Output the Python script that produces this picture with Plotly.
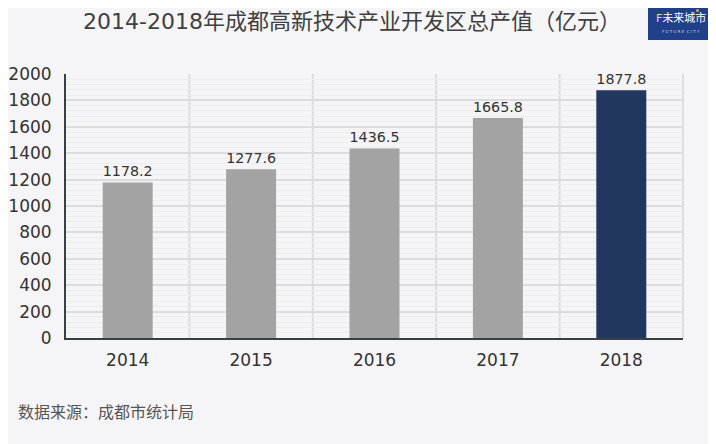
import plotly.graph_objects as go

years = ["2014", "2015", "2016", "2017", "2018"]
values = [1178.2, 1277.6, 1436.5, 1665.8, 1877.8]
bar_colors = ["#a3a3a3", "#a3a3a3", "#a3a3a3", "#a3a3a3", "#22375f"]
y_ticks = [0, 200, 400, 600, 800, 1000, 1200, 1400, 1600, 1800, 2000]

FONT = "DejaVu Sans, Noto Sans CJK SC, sans-serif"
CJK = "Noto Sans CJK SC, sans-serif"
BG = "#f5f5f7"

# paper spans figure x 58..708, y 0..330 ; page is offset by 8px
PW, PH = 650.0, 330.0
def px(wx):
    return (wx - 66) / PW
def py(wy):
    return (338 - wy) / PH

fig = go.Figure()
fig.add_trace(go.Bar(
    x=years, y=values,
    marker=dict(color=bar_colors, line=dict(width=0)),
    text=[f"{v:.1f}" for v in values],
    textposition="outside",
    textfont=dict(size=17, color="#333333", family=FONT),
    cliponaxis=False,
    width=0.405,
))

# vertical separators between categories
for i in range(1, len(years)):
    fig.add_shape(type="line", xref="x", yref="y domain", x0=i - 0.5, x1=i - 0.5, y0=0, y1=1,
                  line=dict(color="#dcdcdc", width=2), layer="below")
# right border of plot area
fig.add_shape(type="line", xref="x domain", yref="y domain", x0=1, x1=1, y0=0, y1=1,
              line=dict(color="#dcdcdc", width=2), layer="below")

fig.update_layout(
    width=716, height=444,
    paper_bgcolor=BG, plot_bgcolor=BG,
    margin=dict(l=58, r=8, t=0, b=114, autoexpand=False),
    showlegend=False,
    font=dict(family=FONT, color="#333333"),
    title=dict(text="2014-2018年成都高新技术产业开发区总产值（亿元）",
               x=344 / 716, xanchor="center", xref="container",
               y=1 - 13 / 444, yanchor="middle", yref="container",
               font=dict(size=22, color="#404040", family=FONT)),
    xaxis=dict(
        type="category", range=[-0.5, 4.5], automargin=False,
        domain=[0, 617 / PW],
        showline=True, linecolor="#3a3f45", linewidth=2,
        mirror=False, showgrid=False, ticks="",
        tickfont=dict(size=17, color="#333333"),
        ticklabelstandoff=6,
    ),
    yaxis=dict(
        range=[0, 2000], tickvals=y_ticks, automargin=False,
        domain=[0, 264 / PH],
        showline=True, linecolor="#3a3f45", linewidth=2,
        showgrid=True, gridcolor="#dcdcdc", gridwidth=2,
        zeroline=False, ticks="",
        tickfont=dict(size=17, color="#333333"),
        ticklabelstandoff=9,
        minor=dict(dtick=40, showgrid=True, gridcolor="#ededf0", gridwidth=1),
    ),
    bargap=0.6,
)

# logo block
fig.add_shape(type="rect", xref="paper", yref="paper",
              x0=px(648), x1=px(714), y0=py(40), y1=py(8),
              fillcolor="#21408a", line=dict(width=0), layer="above")
fig.add_shape(type="circle", xref="paper", yref="paper",
              x0=px(696), x1=px(699), y0=py(12), y1=py(9),
              fillcolor="#e8a23a", line=dict(width=0), layer="above")
fig.add_annotation(text="<span style='color:#f0d9a8'>F</span>未来城市", xref="paper", yref="paper",
                   x=px(681), y=py(18), xanchor="center", yanchor="middle",
                   showarrow=False, borderpad=0,
                   font=dict(size=11, color="#ffffff", family=FONT))
fig.add_annotation(text="F U T U R E  C I T Y", xref="paper", yref="paper",
                   x=px(681), y=py(31), xanchor="center", yanchor="middle",
                   showarrow=False, borderpad=0,
                   font=dict(size=4, color="#c9d1e6", family=FONT))

# source note
fig.add_annotation(text="数据来源：成都市统计局", xref="paper", yref="paper",
                   x=px(16), y=py(411), xanchor="left", yanchor="middle",
                   showarrow=False, font=dict(size=16, color="#555555", family=CJK))

fig.write_html("out.html", config={"displayModeBar": False})
